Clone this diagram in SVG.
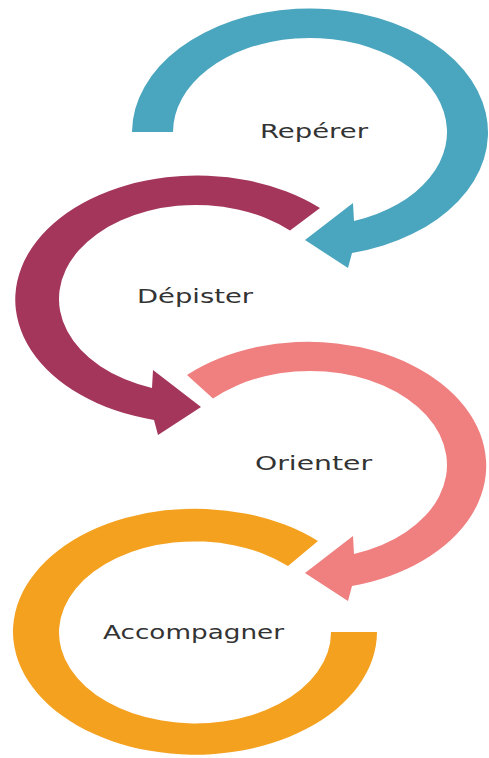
<svg xmlns="http://www.w3.org/2000/svg" width="489" height="758" viewBox="0 0 489 758">
  <style>
    .lbl { font-family: "DejaVu Sans", "Liberation Sans", sans-serif; font-size: 19px; fill: #333333; }
    .blue { fill: #4AA5BE; }
    .maroon { fill: #A3365A; }
    .pink { fill: #F07F7F; }
    .orange { fill: #F4A11F; }
  </style>
  <rect width="489" height="758" fill="#ffffff"/>
  <g id="connectors">
    <path class="blue" d="M 132,132 A 178,124 0 1 1 352,253 L 348,268 L 305,240 L 353,203 L 354,221 A 137,94 0 1 0 173,132 Z"/>
    <path class="maroon" d="M 320,208 A 182,124 0 1 0 154,420 L 158,435 L 201,407 L 153,370 L 152,388 A 137,94 0 1 1 290,230.6 Z"/>
    <path class="pink" d="M 187,375 A 178,124 0 1 1 352,586 L 348,601 L 305,573 L 353,536 L 354,554 A 137,94 0 1 0 213,398.6 Z"/>
    <path class="orange" d="M 318,541 A 182,123 0 1 0 377,632 L 331,632 A 136,91 0 1 1 288,566 Z"/>
  </g>
  <g id="reperer">
    <text class="lbl" x="260" y="138" textLength="108" lengthAdjust="spacingAndGlyphs">Repérer</text>
  </g>
  <g id="depister">
    <text class="lbl" x="137" y="303" textLength="116" lengthAdjust="spacingAndGlyphs">Dépister</text>
  </g>
  <g id="orienter">
    <text class="lbl" x="255" y="470" textLength="117" lengthAdjust="spacingAndGlyphs">Orienter</text>
  </g>
  <g id="accompagner">
    <text class="lbl" x="103" y="639" textLength="181" lengthAdjust="spacingAndGlyphs">Accompagner</text>
  </g>
</svg>
